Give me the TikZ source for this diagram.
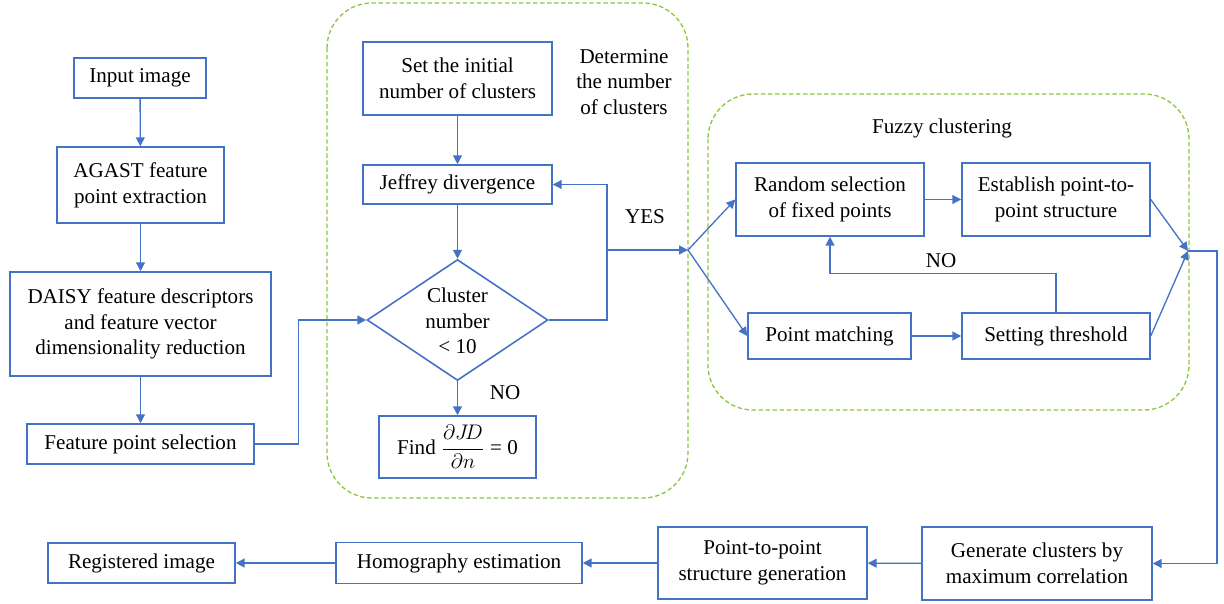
\documentclass[tikz,border=0pt]{standalone}
\usepackage{amsmath}
\usepackage{fontspec}
\setmainfont{Liberation Serif}
\usetikzlibrary{arrows.meta,shapes.geometric,calc}
\definecolor{boxblue}{RGB}{68,114,196}
\definecolor{grpgreen}{RGB}{140,198,63}
\begin{document}
\begin{tikzpicture}[x=0.02cm,y=-0.02cm,
  font=\fontsize{12}{14.6}\selectfont,
  box/.style={draw=boxblue,line width=0.9pt,align=center,inner sep=0pt,fill=white},
  arr/.style={draw=boxblue,line width=0.75pt,-{Triangle[length=5pt,width=5pt]}},
  ln/.style={draw=boxblue,line width=0.75pt},
  grp/.style={draw=grpgreen,line width=0.75pt,dash pattern=on 2.5pt off 1.5pt,rounded corners=0.9cm},
  lbl/.style={align=center,inner sep=0pt}]
\useasboundingbox (0,0) rectangle (1224,604);
% group frames
\draw[grp] (327,3) rectangle (688,498);
\draw[grp] (708,94) rectangle (1189,410);
\node[lbl] (detlbl) at (624,82) {Determine\\the number\\of clusters};
\node[lbl] (fuzlbl) at (942,128) {Fuzzy clustering};
% left column
\node[box,minimum width=2.64cm,minimum height=0.8cm] (in) at (140,78) {Input image};
\node[box,minimum width=3.34cm,minimum height=1.52cm] (agast) at (140.5,185) {AGAST feature\\point extraction};
\node[box,minimum width=5.22cm,minimum height=2.08cm] (daisy) at (140.5,324) {DAISY feature descriptors\\and feature vector\\dimensionality reduction};
\node[box,minimum width=4.54cm,minimum height=0.8cm] (fps) at (140.5,444) {Feature point selection};
% determine clusters
\node[box,minimum width=3.78cm,minimum height=1.46cm] (setinit) at (457.5,78.5) {Set the initial\\number of clusters};
\node[box,minimum width=3.78cm,minimum height=0.78cm] (jeff) at (457.5,184.5) {Jeffrey divergence};
\node[draw=boxblue,line width=0.9pt,diamond,inner sep=0pt,minimum width=3.62cm,minimum height=2.42cm] (dia) at (457.5,320) {};
\node[lbl] (diatext) at (457.5,321) {Cluster\\number\\< 10};
\node[box,minimum width=3.14cm,minimum height=1.24cm] (find) at (457.5,447) {Find \(\dfrac{\partial J\!D}{\partial n}\) = 0};
% fuzzy clustering
\node[box,minimum width=3.76cm,minimum height=1.46cm] (rand) at (830,199.5) {Random selection\\of fixed points};
\node[box,minimum width=3.76cm,minimum height=1.46cm] (est) at (1056,199.5) {Establish point-to-\\point structure};
\node[box,minimum width=3.26cm,minimum height=0.92cm] (pm) at (829.5,336) {Point matching};
\node[box,minimum width=3.76cm,minimum height=0.92cm] (st) at (1056,336) {Setting threshold};
% bottom row
\node[box,minimum width=4.6cm,minimum height=1.46cm] (gen) at (1037,563.5) {Generate clusters by\\maximum correlation};
\node[box,minimum width=4.18cm,minimum height=1.44cm] (p2p) at (762.5,563) {Point-to-point\\structure generation};
\node[box,minimum width=4.92cm,minimum height=0.82cm] (homo) at (459,563) {Homography estimation};
\node[box,minimum width=3.74cm,minimum height=0.8cm] (reg) at (141.5,563) {Registered image};
% coordinates
\coordinate (fb) at (607,250);
\coordinate (jl) at (688,250);
\coordinate (jr) at (1188,251);
\coordinate (rc) at (1217,251);
% connectors
\draw[arr] (in) -- (agast);
\draw[arr] (agast) -- (daisy);
\draw[arr] (daisy) -- (fps);
\draw[arr] (fps.east) -- ++(44,0) |- (dia.west);
\draw[arr] (setinit) -- (jeff);
\draw[arr] (jeff) -- (dia.north);
\draw[arr] (dia.south) -- (find.north);
\draw[arr] (dia.east) -| (fb) |- (jeff.east);
\draw[arr] (fb) -- (jl);
\draw[arr] (jl) -- (rand.west);
\draw[arr] (jl) -- (pm.west);
\draw[arr] (rand) -- (est);
\draw[arr] (pm) -- (st);
\draw[arr] (est.east) -- (jr);
\draw[arr] (st.east) -- (jr);
\draw[arr] (st.north) -- ++(0,-39) -| (rand.south);
\draw[arr] (jr) -- (rc) |- (gen.east);
\draw[arr] (gen) -- (p2p);
\draw[arr] (p2p) -- (homo);
\draw[arr] (homo) -- (reg);
% labels
\node[lbl] (yes) at (645,217) {YES};
\node[lbl] (no1) at (505,393) {NO};
\node[lbl] (no2) at (941,261) {NO};
\end{tikzpicture}
\end{document}
